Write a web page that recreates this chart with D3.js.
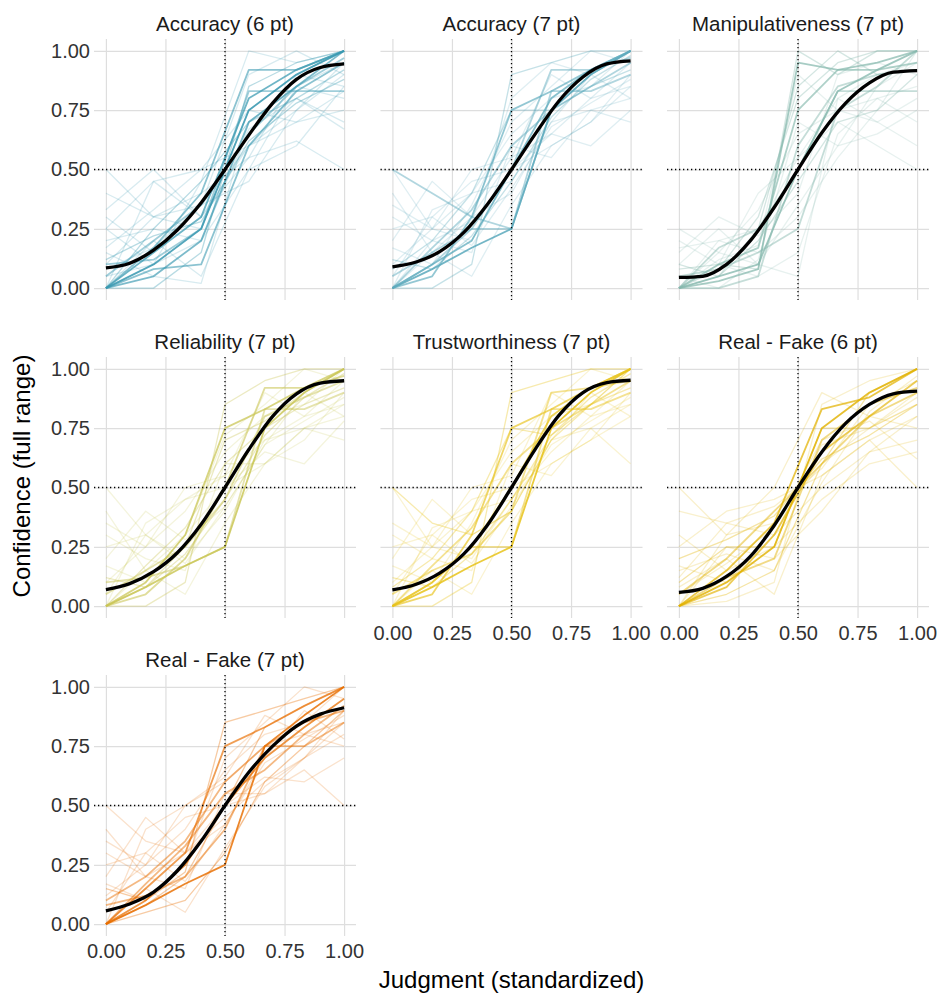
<!DOCTYPE html>
<html>
<head>
<meta charset="utf-8">
<title>Confidence by judgment</title>
<script src="https://cdnjs.cloudflare.com/ajax/libs/d3/7.8.5/d3.min.js"></script>
<style>
  html, body { margin: 0; padding: 0; background: #ffffff; }
  body { font-family: "Liberation Sans", Arial, sans-serif; }
  .grid line { stroke: #dedede; stroke-width: 1.2; }
  .grid path { display: none; }
  .ticks path, .ticks line { display: none; }
  .ticks text { fill: #333333; font-size: 20px; }
  .strip { fill: #1a1a1a; font-size: 20.5px; }
  .axis-title { fill: #000000; font-size: 24px; }
</style>
</head>
<body>
<div id="chart"></div>
<script>
// ---- data ----
const panelTitles = ["Accuracy (6 pt)", "Accuracy (7 pt)", "Manipulativeness (7 pt)",
  "Reliability (7 pt)", "Trustworthiness (7 pt)", "Real - Fake (6 pt)", "Real - Fake (7 pt)"];
const scalePoints = [6, 7, 7, 7, 7, 6, 7];
const panelColors = ["#3B9AB2", "#5EABBD", "#88BAAF", "#CAC656", "#E8C41E", "#E2B306", "#E86F00"];

const judgment6 = [0, 0.2, 0.4, 0.6, 0.8, 1];
const judgment7 = [0, 0.167, 0.333, 0.5, 0.667, 0.833, 1];
const axisTicks = [0, 0.25, 0.5, 0.75, 1];

// fitted curve, sampled every 0.1 on the judgment axis
const fitX = [0, 0.1, 0.2, 0.3, 0.4, 0.5, 0.6, 0.7, 0.8, 0.9, 1];
const fitAccuracy6 = [0.085, 0.105, 0.16, 0.245, 0.36, 0.5, 0.645, 0.78, 0.88, 0.93, 0.945];
const fitAccuracy7 = [0.09, 0.11, 0.155, 0.235, 0.355, 0.5, 0.65, 0.79, 0.89, 0.945, 0.958];
const fitManip7 = [0.045, 0.05, 0.1, 0.2, 0.34, 0.5, 0.655, 0.78, 0.865, 0.91, 0.917];
const fitReliab7 = [0.07, 0.095, 0.145, 0.225, 0.345, 0.5, 0.66, 0.8, 0.895, 0.94, 0.95];
const fitTrust7 = [0.068, 0.092, 0.14, 0.22, 0.343, 0.5, 0.662, 0.805, 0.9, 0.942, 0.952];
const fitRealFake6 = [0.058, 0.075, 0.125, 0.21, 0.34, 0.5, 0.65, 0.77, 0.85, 0.895, 0.906];
const fitRealFake7 = [0.056, 0.085, 0.135, 0.225, 0.35, 0.5, 0.64, 0.75, 0.835, 0.885, 0.912];

// participant mean confidence per judgment level (n = participants sharing that profile)
const linesAccuracy6 = [
  {n: 9, y: [0, .1, .25, .75, .9, 1]},
  {n: 6, y: [0, .15, .3, .8, .92, 1]},
  {n: 5, y: [0, .05, .2, .7, .85, 1]},
  {n: 4, y: [0, .08, .1, .6, .83, .95]},
  {n: 3, y: [.05, .2, .35, .65, .85, .97]},
  {n: 4, y: [0, .17, .4, .92, .92, 1]},
  {n: 3, y: [.1, .12, .25, .83, .83, .83]},
  {n: 2, y: [0, .25, .45, .7, .8, .92]},
  {n: 1, y: [.5, .3, .35, .6, .75, .9]},
  {n: 1, y: [.33, .5, .3, .55, .9, 1]},
  {n: 1, y: [.25, .1, .2, .5, .6, .85]},
  {n: 1, y: [.17, .33, .5, .75, .7, .83]},
  {n: 1, y: [0, .45, .5, .6, .7, .75]},
  {n: 1, y: [.08, .17, .35, .9, 1, .9]},
  {n: 1, y: [.2, .25, .2, .67, .8, .7]},
  {n: 2, y: [0, 0, .15, .85, .95, 1]},
  {n: 1, y: [.1, .3, .4, .55, .62, .5]},
  {n: 1, y: [.15, .05, .02, .7, .85, .95]},
  {n: 1, y: [.4, .3, .25, .75, .9, .85]},
  {n: 1, y: [.05, .1, .45, 1, .95, 1]},
  {n: 1, y: [.25, .45, .3, .6, .8, .67]},
  {n: 1, y: [0, .2, .05, .5, .85, .8]},
  {n: 1, y: [.3, .15, .35, .45, .75, .95]},
  {n: 2, y: [.12, .22, .28, .62, .78, .88]}
];
const linesAccuracy7 = [
  {n: 9, y: [0, .08, .17, .25, .75, .9, 1]},
  {n: 6, y: [0, .1, .2, .5, .8, .92, 1]},
  {n: 5, y: [0, .05, .3, .75, .83, .92, 1]},
  {n: 3, y: [.05, .15, .25, .5, .92, .92, .97]},
  {n: 3, y: [0, .17, .33, .6, .75, .85, .95]},
  {n: 3, y: [.5, .4, .3, .25, .75, .9, 1]},
  {n: 3, y: [0, .1, .25, .25, .83, .83, .9]},
  {n: 2, y: [.08, .2, .4, .75, .75, .85, .92]},
  {n: 1, y: [.25, .3, .45, .5, .6, .7, .85]},
  {n: 1, y: [.5, .25, .2, .5, .65, .8, .95]},
  {n: 1, y: [0, .33, .4, .45, .7, .75, .8]},
  {n: 1, y: [.17, .1, .35, .7, .85, 1, .95]},
  {n: 2, y: [0, 0, .1, .9, .95, 1, 1]},
  {n: 1, y: [.3, .2, .15, .6, .55, .75, .7]},
  {n: 1, y: [.1, .25, .5, .55, .9, .8, .85]},
  {n: 1, y: [.2, .45, .3, .4, .7, .9, .8]},
  {n: 1, y: [0, .15, .05, .35, .6, .7, .9]},
  {n: 1, y: [.35, .25, .4, .65, .8, .85, 1]},
  {n: 2, y: [.12, .08, .22, .45, .72, .88, .98]},
  {n: 1, y: [.4, .15, .3, .55, .65, .6, .75]},
  {n: 1, y: [0, .2, .28, .8, .95, .9, 1]},
  {n: 1, y: [.05, .3, .18, .42, .68, .78, .88]}
];
const linesManip7 = [
  {n: 7, y: [0, .05, .1, .5, .83, .92, 1]},
  {n: 6, y: [0, .03, .08, .95, .92, .95, 1]},
  {n: 5, y: [0, .1, .17, .75, .92, .92, .95]},
  {n: 3, y: [.05, .08, .15, .25, .75, .85, 1]},
  {n: 3, y: [0, 0, .05, .6, .85, .9, .92]},
  {n: 3, y: [0, .17, .25, .5, .83, .83, .83]},
  {n: 2, y: [.08, .1, .08, 1, .9, 1, 1]},
  {n: 2, y: [0, .05, .2, .45, .7, .75, .9]},
  {n: 1, y: [.17, .2, .25, .55, .7, .6, .5]},
  {n: 1, y: [0, .15, .33, .65, .75, .8, .7]},
  {n: 1, y: [.1, .25, .1, .35, .6, .85, .95]},
  {n: 2, y: [0, .08, .3, .8, .95, 1, 1]},
  {n: 1, y: [.2, .1, .05, .15, .65, .8, .85]},
  {n: 1, y: [0, .12, .18, .9, .75, .7, .8]},
  {n: 1, y: [.15, .3, .22, .4, .9, .95, .9]},
  {n: 1, y: [.05, 0, .12, .7, .6, .65, .75]},
  {n: 1, y: [0, .2, .15, .3, .55, .75, 1]},
  {n: 2, y: [.1, .05, .25, .85, 1, .9, .92]},
  {n: 1, y: [0, .1, .4, .55, .8, .7, .6]},
  {n: 1, y: [.25, .15, .1, .05, .8, .9, .95]}
];
const linesReliab7 = [
  {n: 8, y: [0, .08, .17, .25, .75, .9, 1]},
  {n: 6, y: [0, .1, .3, .75, .83, .92, 1]},
  {n: 4, y: [0, .05, .2, .5, .92, .92, .97]},
  {n: 3, y: [.05, .15, .25, .45, .8, .88, .95]},
  {n: 2, y: [0, .17, .33, .6, .75, .85, .92]},
  {n: 3, y: [.1, .12, .17, .25, .83, .83, .9]},
  {n: 2, y: [0, .08, .25, .7, .78, .9, 1]},
  {n: 1, y: [.25, .3, .45, .5, .6, .75, .85]},
  {n: 1, y: [.5, .3, .2, .4, .7, .8, .95]},
  {n: 1, y: [0, .35, .45, .55, .7, .75, .8]},
  {n: 1, y: [.17, .1, .3, .72, .85, 1, .95]},
  {n: 2, y: [0, 0, .1, .85, .95, 1, 1]},
  {n: 1, y: [.3, .2, .15, .6, .6, .75, .7]},
  {n: 1, y: [.1, .25, .5, .55, .9, .8, .85]},
  {n: 1, y: [.2, .4, .28, .42, .68, .9, .8]},
  {n: 1, y: [0, .15, .05, .35, .6, .7, .9]},
  {n: 1, y: [.35, .25, .4, .65, .8, .85, 1]},
  {n: 2, y: [.12, .08, .22, .45, .72, .88, .98]},
  {n: 1, y: [.4, .15, .3, .5, .65, .6, .78]},
  {n: 1, y: [.05, .3, .18, .42, .68, .78, .88]}
];
const linesTrust7 = [
  {n: 9, y: [0, .08, .17, .25, .75, .9, 1]},
  {n: 6, y: [0, .1, .25, .5, .8, .92, 1]},
  {n: 5, y: [0, .05, .3, .75, .83, .92, 1]},
  {n: 3, y: [.05, .15, .22, .4, .9, .92, .95]},
  {n: 3, y: [0, .17, .33, .6, .75, .85, .95]},
  {n: 2, y: [.5, .35, .3, .4, .7, .85, 1]},
  {n: 3, y: [0, .1, .25, .25, .83, .83, .9]},
  {n: 2, y: [.08, .2, .4, .75, .72, .85, .92]},
  {n: 1, y: [.25, .3, .45, .5, .6, .7, .8]},
  {n: 1, y: [.5, .25, .2, .45, .65, .8, .95]},
  {n: 1, y: [0, .33, .4, .45, .7, .75, .85]},
  {n: 1, y: [.17, .1, .35, .7, .85, 1, .95]},
  {n: 2, y: [0, 0, .1, .9, .95, 1, 1]},
  {n: 1, y: [.3, .2, .15, .6, .55, .75, .6]},
  {n: 1, y: [.1, .25, .5, .55, .9, .8, .85]},
  {n: 1, y: [.2, .45, .3, .4, .7, .9, .8]},
  {n: 1, y: [0, .15, .05, .35, .6, .7, .9]},
  {n: 1, y: [.35, .25, .4, .65, .8, .85, 1]},
  {n: 2, y: [.12, .08, .22, .45, .72, .88, .98]},
  {n: 1, y: [.05, .3, .18, .42, .68, .78, .88]}
];
const linesRealFake6 = [
  {n: 8, y: [0, .1, .25, .75, .9, 1]},
  {n: 6, y: [0, .15, .35, .83, .88, 1]},
  {n: 5, y: [0, .08, .3, .65, .8, .95]},
  {n: 3, y: [.05, .2, .4, .6, .8, .9]},
  {n: 3, y: [0, .12, .2, .7, .85, .92]},
  {n: 2, y: [.1, .25, .25, .75, .75, .85]},
  {n: 2, y: [0, .05, .15, .6, .9, 1]},
  {n: 1, y: [.5, .3, .35, .6, .75, .9]},
  {n: 1, y: [.25, .4, .45, .55, .7, .8]},
  {n: 1, y: [.17, .1, .3, .5, .65, .7]},
  {n: 1, y: [0, .3, .5, .9, .8, .75]},
  {n: 1, y: [.08, .2, .05, .55, .7, .5]},
  {n: 2, y: [.2, .28, .38, .62, .72, .85]},
  {n: 1, y: [0, .02, .1, .85, .95, 1]},
  {n: 1, y: [.3, .15, .25, .45, .6, .65]},
  {n: 1, y: [.12, .35, .42, .58, .85, .95]},
  {n: 1, y: [.05, .18, .33, .7, .78, .62]},
  {n: 1, y: [.15, .22, .15, .52, .82, .97]},
  {n: 1, y: [.4, .35, .3, .68, .75, .88]},
  {n: 1, y: [0, .25, .2, .4, .65, .8]}
];
const linesRealFake7 = [
  {n: 8, y: [0, .08, .17, .25, .75, .88, 1]},
  {n: 6, y: [0, .1, .25, .5, .7, .83, .95]},
  {n: 5, y: [0, .15, .3, .75, .83, .92, 1]},
  {n: 3, y: [.08, .12, .2, .4, .75, .85, .9]},
  {n: 3, y: [0, .17, .33, .55, .65, .8, .92]},
  {n: 2, y: [0, .05, .1, .3, .6, .75, .9]},
  {n: 3, y: [.1, .2, .35, .6, .75, .75, .85]},
  {n: 2, y: [0, .08, .2, .5, .83, .92, 1]},
  {n: 1, y: [.5, .35, .3, .45, .6, .7, .8]},
  {n: 1, y: [.25, .3, .45, .5, .55, .7, .85]},
  {n: 1, y: [0, .4, .5, .6, .75, .8, .75]},
  {n: 1, y: [.17, .1, .25, .7, .85, 1, .95]},
  {n: 1, y: [.3, .2, .15, .55, .55, .65, .5]},
  {n: 1, y: [.12, .25, .5, .62, .88, .8, .85]},
  {n: 1, y: [.2, .45, .3, .42, .7, .9, .78]},
  {n: 1, y: [0, .15, .05, .32, .58, .7, .9]},
  {n: 1, y: [.35, .25, .4, .65, .8, .85, 1]},
  {n: 1, y: [.05, .3, .18, .42, .68, .78, .88]},
  {n: 2, y: [.15, .1, .22, .85, .9, .95, 1]},
  {n: 1, y: [.4, .2, .3, .5, .62, .6, .7]}
];

const participantLines = [linesAccuracy6, linesAccuracy7, linesManip7, linesReliab7,
  linesTrust7, linesRealFake6, linesRealFake7];
const fittedCurves = [fitAccuracy6, fitAccuracy7, fitManip7, fitReliab7,
  fitTrust7, fitRealFake6, fitRealFake7];

// ---- layout ----
const width = 938, height = 995;
const colLeft = [94, 380.5, 667];
const rowTop = [39, 357, 675];
const pw = 262, ph = 261;
const lineAlpha = 0.2;

const svg = d3.select("#chart").append("svg")
  .attr("width", width)
  .attr("height", height);

const x = d3.scaleLinear().domain([-0.05, 1.05]).range([0, pw]);
const y = d3.scaleLinear().domain([-0.05, 1.05]).range([ph, 0]);

const line = d3.line()
  .x(d => x(d[0]))
  .y(d => y(d[1]));

const smooth = d3.line()
  .x(d => x(d[0]))
  .y(d => y(d[1]))
  .curve(d3.curveMonotoneX);

panelTitles.forEach((title, i) => {
  const col = i % 3, row = Math.floor(i / 3);
  const g = svg.append("g")
    .attr("transform", `translate(${colLeft[col]},${rowTop[row]})`);

  // grid
  g.append("g").attr("class", "grid")
    .call(d3.axisLeft(y).tickValues(axisTicks).tickSize(-pw).tickFormat(""));
  g.append("g").attr("class", "grid")
    .attr("transform", `translate(0,${ph})`)
    .call(d3.axisBottom(x).tickValues(axisTicks).tickSize(-ph).tickFormat(""));

  // participants
  const levels = scalePoints[i] === 6 ? judgment6 : judgment7;
  g.append("g")
    .selectAll("path")
    .data(participantLines[i])
    .join("path")
    .attr("fill", "none")
    .attr("stroke", panelColors[i])
    .attr("stroke-width", d => d.n > 2 ? 1.8 : 1.3)
    .attr("stroke-opacity", d => 1 - Math.pow(1 - lineAlpha, d.n))
    .attr("stroke-linejoin", "round")
    .attr("d", d => line(d.y.map((v, k) => [levels[k], v])));

  // reference lines at 0.5
  g.append("line")
    .attr("x1", x(0.5)).attr("x2", x(0.5))
    .attr("y1", 0).attr("y2", ph)
    .attr("stroke", "#000").attr("stroke-width", 1.3)
    .attr("stroke-dasharray", "1.3,2.7");
  g.append("line")
    .attr("x1", 0).attr("x2", pw)
    .attr("y1", y(0.5)).attr("y2", y(0.5))
    .attr("stroke", "#000").attr("stroke-width", 1.3)
    .attr("stroke-dasharray", "1.3,2.7");

  // fitted curve
  g.append("path")
    .attr("fill", "none")
    .attr("stroke", "#000")
    .attr("stroke-width", 3.3)
    .attr("d", smooth(fitX.map((v, k) => [v, fittedCurves[i][k]])));

  // strip title
  g.append("text")
    .attr("class", "strip")
    .attr("x", pw / 2)
    .attr("y", -8)
    .attr("text-anchor", "middle")
    .text(title);

  // y tick labels on the first column
  if (col === 0) {
    g.append("g").attr("class", "ticks")
      .call(d3.axisLeft(y).tickValues(axisTicks).tickSize(0).tickPadding(4)
        .tickFormat(d3.format(".2f")));
  }
  // x tick labels on the bottom panel of each column
  if (i >= 4) {
    g.append("g").attr("class", "ticks")
      .attr("transform", `translate(0,${ph})`)
      .call(d3.axisBottom(x).tickValues(axisTicks).tickSize(0).tickPadding(8)
        .tickFormat(d3.format(".2f")));
  }
});

// axis titles
svg.append("text")
  .attr("class", "axis-title")
  .attr("x", (colLeft[0] + colLeft[2] + pw) / 2)
  .attr("y", 988)
  .attr("text-anchor", "middle")
  .text("Judgment (standardized)");

svg.append("text")
  .attr("class", "axis-title")
  .attr("transform", `translate(30,${476}) rotate(-90)`)
  .attr("text-anchor", "middle")
  .text("Confidence (full range)");
</script>
</body>
</html>
